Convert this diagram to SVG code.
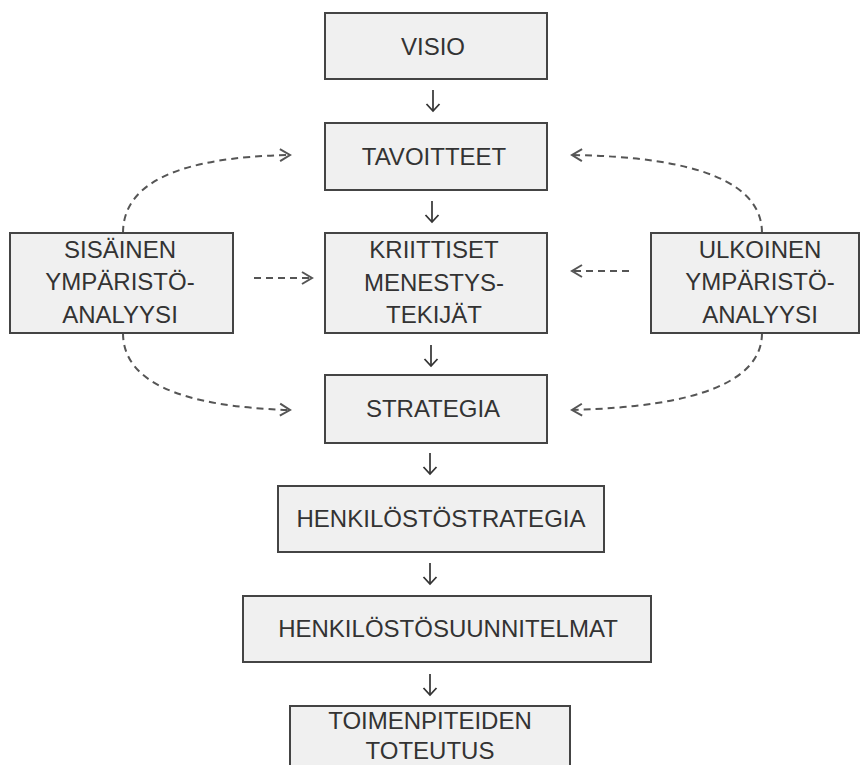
<svg xmlns="http://www.w3.org/2000/svg" width="861" height="765" viewBox="0 0 861 765">
  <style>
    .box { fill: #f0f0f0; stroke: #444; stroke-width: 2; }
    .lbl { font-family: "Liberation Sans", Arial, sans-serif; font-size: 24px; fill: #333; text-anchor: middle; }
    .flow { fill: none; stroke: #333; stroke-width: 1.7; }
    .dash { fill: none; stroke: #555; stroke-width: 2; stroke-dasharray: 7 5; }
  </style>
  <defs>
    <marker id="vhead" markerWidth="16" markerHeight="16" refX="8" refY="8" orient="auto" markerUnits="userSpaceOnUse">
      <path d="M1,1.5 L8,8 L1,14.5" fill="none" stroke="#333" stroke-width="1.8"/>
    </marker>
    <marker id="dhead" markerWidth="16" markerHeight="16" refX="11" refY="8" orient="auto" markerUnits="userSpaceOnUse">
      <path d="M1,2 L11,8 L1,14" fill="none" stroke="#555" stroke-width="2"/>
    </marker>
  </defs>
  <rect width="861" height="765" fill="#ffffff"/>

  <!-- connectors -->
  <g id="connectors">
    <!-- main chain -->
    <path class="flow" d="M433,90 L433,111" marker-end="url(#vhead)"/>
    <path class="flow" d="M432,201 L432,222" marker-end="url(#vhead)"/>
    <path class="flow" d="M431,345 L431,366" marker-end="url(#vhead)"/>
    <path class="flow" d="M430,453 L430,474" marker-end="url(#vhead)"/>
    <path class="flow" d="M430,563 L430,584" marker-end="url(#vhead)"/>
    <path class="flow" d="M430,674 L430,695" marker-end="url(#vhead)"/>
    <!-- internal environment analysis -->
    <path class="dash" d="M123,233 Q123,158 290,155" marker-end="url(#dhead)"/>
    <path class="dash" d="M254,278 L312,278" marker-end="url(#dhead)"/>
    <path class="dash" d="M123,333 Q123,405 290,410" marker-end="url(#dhead)"/>
    <!-- external environment analysis -->
    <path class="dash" d="M762,233 Q762,158 572,155" marker-end="url(#dhead)"/>
    <path class="dash" d="M629,271 L572,271" marker-end="url(#dhead)"/>
    <path class="dash" d="M762,333 Q762,405 572,410" marker-end="url(#dhead)"/>
  </g>

  <g id="visio">
    <rect class="box" x="325" y="13" width="222" height="66"/>
    <text class="lbl" x="433" y="55">VISIO</text>
  </g>
  <g id="tavoitteet">
    <rect class="box" x="325" y="123" width="222" height="67"/>
    <text class="lbl" x="434" y="165">TAVOITTEET</text>
  </g>
  <g id="kriittiset">
    <rect class="box" x="325" y="233" width="222" height="100"/>
    <text class="lbl" x="434" y="258">KRIITTISET</text>
    <text class="lbl" x="434" y="291">MENESTYS-</text>
    <text class="lbl" x="434" y="323">TEKIJÄT</text>
  </g>
  <g id="strategia">
    <rect class="box" x="325" y="375" width="222" height="68"/>
    <text class="lbl" x="433" y="417">STRATEGIA</text>
  </g>
  <g id="sisainen">
    <rect class="box" x="10" y="233" width="223" height="100"/>
    <text class="lbl" x="120" y="258">SISÄINEN</text>
    <text class="lbl" x="120" y="290">YMPÄRISTÖ-</text>
    <text class="lbl" x="120" y="323">ANALYYSI</text>
  </g>
  <g id="ulkoinen">
    <rect class="box" x="651" y="233" width="208" height="100"/>
    <text class="lbl" x="760" y="258">ULKOINEN</text>
    <text class="lbl" x="760" y="290">YMPÄRISTÖ-</text>
    <text class="lbl" x="760" y="323">ANALYYSI</text>
  </g>
  <g id="henkilostostrategia">
    <rect class="box" x="278" y="486" width="326" height="66"/>
    <text class="lbl" x="441" y="527">HENKILÖSTÖSTRATEGIA</text>
  </g>
  <g id="henkilostosuunnitelmat">
    <rect class="box" x="243" y="596" width="408" height="66"/>
    <text class="lbl" x="448" y="637">HENKILÖSTÖSUUNNITELMAT</text>
  </g>
  <g id="toimenpiteiden">
    <rect class="box" x="290" y="706" width="280" height="80"/>
    <text class="lbl" x="430" y="729">TOIMENPITEIDEN</text>
    <text class="lbl" x="430" y="759">TOTEUTUS</text>
  </g>
</svg>
